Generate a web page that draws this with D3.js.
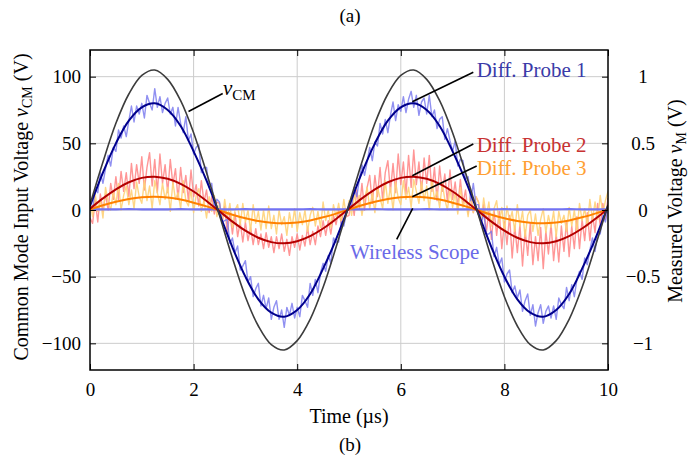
<!DOCTYPE html>
<html>
<head>
<meta charset="utf-8">
<script src="https://cdn.jsdelivr.net/npm/d3@7"></script>
<style>
  html, body { margin: 0; padding: 0; background: #fff; }
  svg { display: block; font-family: "Liberation Serif", "DejaVu Serif", serif; }
</style>
</head>
<body>
<svg id="chart"></svg>
<script>
//--------------------------------------------
// DATA
//--------------------------------------------
// smooth fitted curves, sampled every 0.25 µs from 0 to 10 µs
const smoothStep = 0.25;
const vCM = [4, 36, 65, 87, 101, 105, 98, 82, 58, 28, -4, -36, -65, -87, -101, -105, -98, -82, -58, -28,
  4, 36, 65, 87, 101, 105, 98, 82, 58, 28, -4, -36, -65, -87, -101, -105, -98, -82, -58, -28, 4];
const probe1 = [3, 28, 50, 67, 77, 80, 75, 63, 44, 22, -3, -28, -50, -67, -77, -80, -75, -63, -44, -22,
  3, 28, 50, 67, 77, 80, 75, 63, 44, 22, -3, -28, -50, -67, -77, -80, -75, -63, -44, -22, 3];
const probe2 = [1, 8.7, 15.5, 20.8, 24.1, 25, 23.4, 19.6, 13.9, 6.8, -1, -8.7, -15.5, -20.8, -24.1, -25, -23.4, -19.6, -13.9, -6.8,
  1, 8.7, 15.5, 20.8, 24.1, 25, 23.4, 19.6, 13.9, 6.8, -1, -8.7, -15.5, -20.8, -24.1, -25, -23.4, -19.6, -13.9, -6.8, 1];
const probe3 = [0.4, 3.5, 6.2, 8.3, 9.6, 10, 9.4, 7.8, 5.5, 2.7, -0.4, -3.5, -6.2, -8.3, -9.6, -10, -9.4, -7.8, -5.5, -2.7,
  0.4, 3.5, 6.2, 8.3, 9.6, 10, 9.4, 7.8, 5.5, 2.7, -0.4, -3.5, -6.2, -8.3, -9.6, -10, -9.4, -7.8, -5.5, -2.7, 0.4];
const wireless = [0.6, 0.5, 0.5, 0.6, 0.5, 0.5, 0.5, 0.6, 0.5, 0.5, 0.5, 0.5, 0.6, 0.5, 0.5, 0.5, 0.5, 0.6, 0.5, 0.5,
  0.5, 0.5, 0.6, 0.5, 0.5, 0.5, 0.6, 0.5, 0.5, 0.5, 0.5, 0.5, 0.6, 0.5, 0.5, 0.5, 0.5, 0.6, 0.5, 0.5, 0.5];

// raw (noisy) probe traces, sampled every 0.05 µs
const rawStep = 0.05;
const raw1 = [3, 1, 16, 13, 28, 20, 31, 41, 33, 47, 44, 60, 54, 63, 55, 67, 78, 66, 78, 72,
  80, 69, 86, 80, 75, 91, 77, 85, 73, 80, 84, 72, 77, 63, 77, 65, 58, 70, 52, 57,
  42, 47, 49, 28, 32, 32, 17, 20, 2, 8,
  6, -9, -8, -7, -25, -21, -32, -27, -45, -42, -38, -54, -50, -65, -59, -55, -72, -64, -74, -66,
  -82, -73, -68, -82, -75, -88, -73, -79, -70, -81, -73, -80, -64, -68, -73, -55, -64, -52, -62, -47,
  -40, -46, -34, -40, -21, -24, -24, -9, -12, -2,
  5, 3, 17, 10, 23, 34, 26, 36, 47, 37, 51, 48, 65, 57, 68, 58, 71, 81, 67, 79,
  74, 85, 73, 83, 89, 77, 86, 71, 81, 84, 72, 86, 70, 75, 61, 68, 70, 53, 61, 52,
  44, 52, 33, 38, 37, 23, 25, 7, 20, 4,
  4, -11, -2, -18, -18, -16, -35, -28, -41, -36, -54, -48, -45, -62, -57, -66, -60, -76, -68, -63,
  -79, -71, -87, -77, -71, -85, -76, -72, -81, -72, -82, -66, -71, -74, -58, -68, -56, -65, -52, -46,
  -52, -36, -41, -30, -21, -31, -17, -18, -4, -9, 2];
const raw2 = [-6, -10, 7, -9, 12, -1, 12, 0, 20, 8, 25, 8, 29, 14, 28, 10, 35, 16, 34, 20,
  40, 15, 32, 43, 18, 38, 13, 42, 20, 34, 13, 38, 19, 31, 8, 32, 13, 26, 7, 30,
  10, 19, 3, 22, 6, 15, -2, 10, -3, 6,
  5, -10, 3, -17, -2, -18, -2, -20, -9, -24, -9, -23, -13, -26, -14, -26, -18, -29, -17, -28,
  -20, -32, -20, -29, -18, -31, -22, -34, -20, -28, -18, -30, -19, -27, -13, -26, -16, -26, -12, -20,
  -8, -19, -8, -18, -4, -11, 0, -10, 1, -5,
  -4, 10, -4, 15, 1, 20, 0, 17, 26, 5, 26, 10, 32, 7, 28, 37, 14, 35, 13, 42,
  19, 36, 12, 41, 17, 45, 19, 36, 13, 39, 20, 41, 14, 32, 7, 33, 14, 27, 6, 30,
  8, 21, 2, 23, 5, 15, -3, 11, -2, 10,
  6, -11, 4, -17, -1, -22, 0, -19, -1, -29, -9, -26, -4, -36, -12, -32, -11, -42, -15, -34,
  -10, -41, -20, -38, -13, -44, -16, -33, -10, -38, -18, -39, -12, -31, -8, -35, -12, -29, -5, -29,
  -7, -23, -2, -23, -3, -17, 5, -12, 5, -7, 9];
const raw3 = [8, -5, 12, -1, 8, -6, 17, 6, 0, 14, 4, 20, 0, 11, 18, 4, 15, 1, 21, 10,
  5, 22, 7, 18, 1, 22, 13, 4, 20, 8, 17, -1, 21, 8, 13, 1, 22, 7, 3, 15,
  -2, 11, 16, -1, 7, -6, 10, -1, 11, -5,
  5, -9, 8, -6, 5, -13, 0, 4, -11, 5, -9, 0, -16, 4, -10, -1, -15, 0, -14, 3,
  -14, -4, -18, 0, -11, -5, -19, -2, -13, 1, -16, -2, -11, 0, -16, -4, 2, -12, -1, -13,
  6, -8, 0, -13, 4, -5, 5, -8, 8, -5,
  7, -4, 13, 0, 11, -4, 8, 17, 1, 13, -2, 17, 9, 1, 22, 5, 17, 0, 21, 9,
  4, 22, 8, 17, 2, 23, 14, 5, 21, 7, 18, 0, 23, 8, 14, 2, 20, 8, 0, 16,
  2, 13, -3, 17, 2, 8, -5, 13, -2, 10,
  6, -8, 9, -5, 6, -12, 1, 7, -10, 2, -16, 3, -9, -1, -16, 4, -12, -1, -20, -4,
  0, -16, -3, -19, -7, 1, -17, -4, -13, -1, -20, -1, -10, -4, -16, 2, -12, 0, -16, 5,
  -8, 1, -12, 8, -7, 6, -7, 11, -3, 7, 14];

// axis ticks
const xTicks = [0, 2, 4, 6, 8, 10];
const yTicks = [-100, -50, 0, 50, 100];
const yRightTicks = [-1, -0.5, 0, 0.5, 1];

//--------------------------------------------
// CONFIG
//--------------------------------------------
const width = 700, height = 461;
const plot = { left: 90, right: 608, top: 50, bottom: 370 };

const svg = d3.select("#chart")
  .attr("width", width)
  .attr("height", height)
  .attr("viewBox", [0, 0, width, height]);

const x = d3.scaleLinear([0, 10], [plot.left, plot.right]);
const y = d3.scaleLinear([-120, 120], [plot.bottom, plot.top]);
const yRight = d3.scaleLinear([-1.2, 1.2], [plot.bottom, plot.top]);

const fmt = v => d3.format("")(v).replace("-", "\u2212");

// clip
svg.append("defs").append("clipPath").attr("id", "clip")
  .append("rect")
    .attr("x", plot.left).attr("y", plot.top)
    .attr("width", plot.right - plot.left).attr("height", plot.bottom - plot.top);

//--------------------------------------------
// GRID
//--------------------------------------------
const grid = svg.append("g").attr("stroke", "#cccccc").attr("stroke-width", 1);
grid.selectAll("line.gx").data(xTicks.slice(1, -1)).join("line")
  .attr("x1", d => x(d)).attr("x2", d => x(d))
  .attr("y1", plot.top).attr("y2", plot.bottom);
grid.selectAll("line.gy").data(yTicks).join("line")
  .attr("x1", plot.left).attr("x2", plot.right)
  .attr("y1", d => y(d)).attr("y2", d => y(d));

//--------------------------------------------
// SERIES
//--------------------------------------------
const series = svg.append("g").attr("clip-path", "url(#clip)");

function drawLine(values, step, color, w, opacity, curve) {
  const line = d3.line()
    .x((d, i) => x(i * step))
    .y(d => y(d))
    .curve(curve);
  series.append("path")
    .datum(values)
    .attr("d", line)
    .attr("fill", "none")
    .attr("stroke", color)
    .attr("stroke-width", w)
    .attr("stroke-opacity", opacity)
    .attr("stroke-linejoin", "round");
}

// noisy raw traces
drawLine(raw2, rawStep, "#ff8484", 1.4, 0.85, d3.curveLinear);
drawLine(raw3, rawStep, "#ffd278", 1.4, 0.9, d3.curveLinear);
drawLine(raw1, rawStep, "#7474ee", 1.4, 0.8, d3.curveLinear);

// fitted curves
drawLine(wireless, smoothStep, "#7272f2", 2.2, 1, d3.curveCatmullRom);
drawLine(probe3, smoothStep, "#ff8000", 2, 1, d3.curveCatmullRom);
drawLine(probe2, smoothStep, "#b40000", 2, 1, d3.curveCatmullRom);
drawLine(probe1, smoothStep, "#00008c", 2, 1, d3.curveCatmullRom);
drawLine(vCM, smoothStep, "#3c3c3c", 1.6, 1, d3.curveCatmullRom);

//--------------------------------------------
// AXES (ticks inward, MATLAB box style)
//--------------------------------------------
const axisStyle = g => {
  g.select(".domain").remove();
  g.selectAll(".tick line").attr("stroke", "#000").attr("stroke-width", 1);
  g.selectAll(".tick text").attr("fill", "#000")
    .style("font-family", "Liberation Serif, serif").style("font-size", "19px");
};

svg.append("g")
  .attr("transform", `translate(0,${plot.bottom})`)
  .call(d3.axisBottom(x).tickValues(xTicks).tickSizeInner(-6).tickSizeOuter(0).tickPadding(13).tickFormat(fmt))
  .call(axisStyle);
svg.append("g")
  .attr("transform", `translate(0,${plot.top})`)
  .call(d3.axisTop(x).tickValues(xTicks).tickSizeInner(-6).tickSizeOuter(0).tickFormat(""))
  .call(axisStyle);
svg.append("g")
  .attr("transform", `translate(${plot.left},0)`)
  .call(d3.axisLeft(y).tickValues(yTicks).tickSizeInner(-6).tickSizeOuter(0).tickPadding(9).tickFormat(fmt))
  .call(axisStyle);
const rightAxis = svg.append("g")
  .attr("transform", `translate(${plot.right},0)`)
  .call(d3.axisRight(yRight).tickValues(yRightTicks).tickSizeInner(-6).tickSizeOuter(0).tickFormat(fmt))
  .call(axisStyle);
rightAxis.selectAll(".tick text").attr("text-anchor", "middle").attr("x", 35);

// box
svg.append("rect")
  .attr("x", plot.left).attr("y", plot.top)
  .attr("width", plot.right - plot.left).attr("height", plot.bottom - plot.top)
  .attr("fill", "none").attr("stroke", "#000").attr("stroke-width", 1.5);

//--------------------------------------------
// TITLES
//--------------------------------------------
const text = (xx, yy, anchor, size) => svg.append("text")
  .attr("x", xx).attr("y", yy)
  .attr("text-anchor", anchor)
  .style("font-size", size + "px");

text(350, 22, "middle", 19).text("(a)");
text(349, 423, "middle", 20).text("Time (\u00b5s)");
text(350, 451, "middle", 19).text("(b)");

const leftTitle = svg.append("text")
  .attr("transform", "translate(28,207) rotate(-90)")
  .attr("text-anchor", "middle")
  .style("font-size", "20px");
leftTitle.append("tspan").text("Common Mode Input Voltage ");
leftTitle.append("tspan").style("font-style", "italic").text("v");
leftTitle.append("tspan").attr("dy", 4).style("font-size", "14px").text("CM");
leftTitle.append("tspan").attr("dy", -4).text(" (V)");

const rightTitle = svg.append("text")
  .attr("transform", "translate(682,201) rotate(-90)")
  .attr("text-anchor", "middle")
  .style("font-size", "20px");
rightTitle.append("tspan").text("Measured Voltage ");
rightTitle.append("tspan").style("font-style", "italic").text("v");
rightTitle.append("tspan").attr("dy", 4).style("font-size", "14px").text("M");
rightTitle.append("tspan").attr("dy", -4).text(" (V)");

//--------------------------------------------
// ANNOTATIONS
//--------------------------------------------
const leaders = [
  [222.7, 93.5, 188.5, 111.5],
  [473.3, 72.3, 412.3, 101.7],
  [473.3, 144, 412.3, 175.7],
  [476.7, 166, 412.3, 196.7],
  [412.7, 208.3, 396.7, 239.3]
];
svg.append("g").attr("stroke", "#000").attr("stroke-width", 1.6)
  .selectAll("line").data(leaders).join("line")
    .attr("x1", d => d[0]).attr("y1", d => d[1])
    .attr("x2", d => d[2]).attr("y2", d => d[3]);

const vLabel = text(223, 95, "start", 21);
vLabel.append("tspan").style("font-style", "italic").text("v");
vLabel.append("tspan").attr("dy", 5).style("font-size", "15px").text("CM");

text(476.7, 77, "start", 21).attr("fill", "#3a3aa8").text("Diff. Probe 1");
text(476.7, 152, "start", 21).attr("fill", "#c83232").text("Diff. Probe 2");
text(476.7, 175, "start", 21).attr("fill", "#ffa033").text("Diff. Probe 3");
text(350, 259, "start", 21).attr("fill", "#6a6ae8").text("Wireless Scope");
</script>
</body>
</html>
